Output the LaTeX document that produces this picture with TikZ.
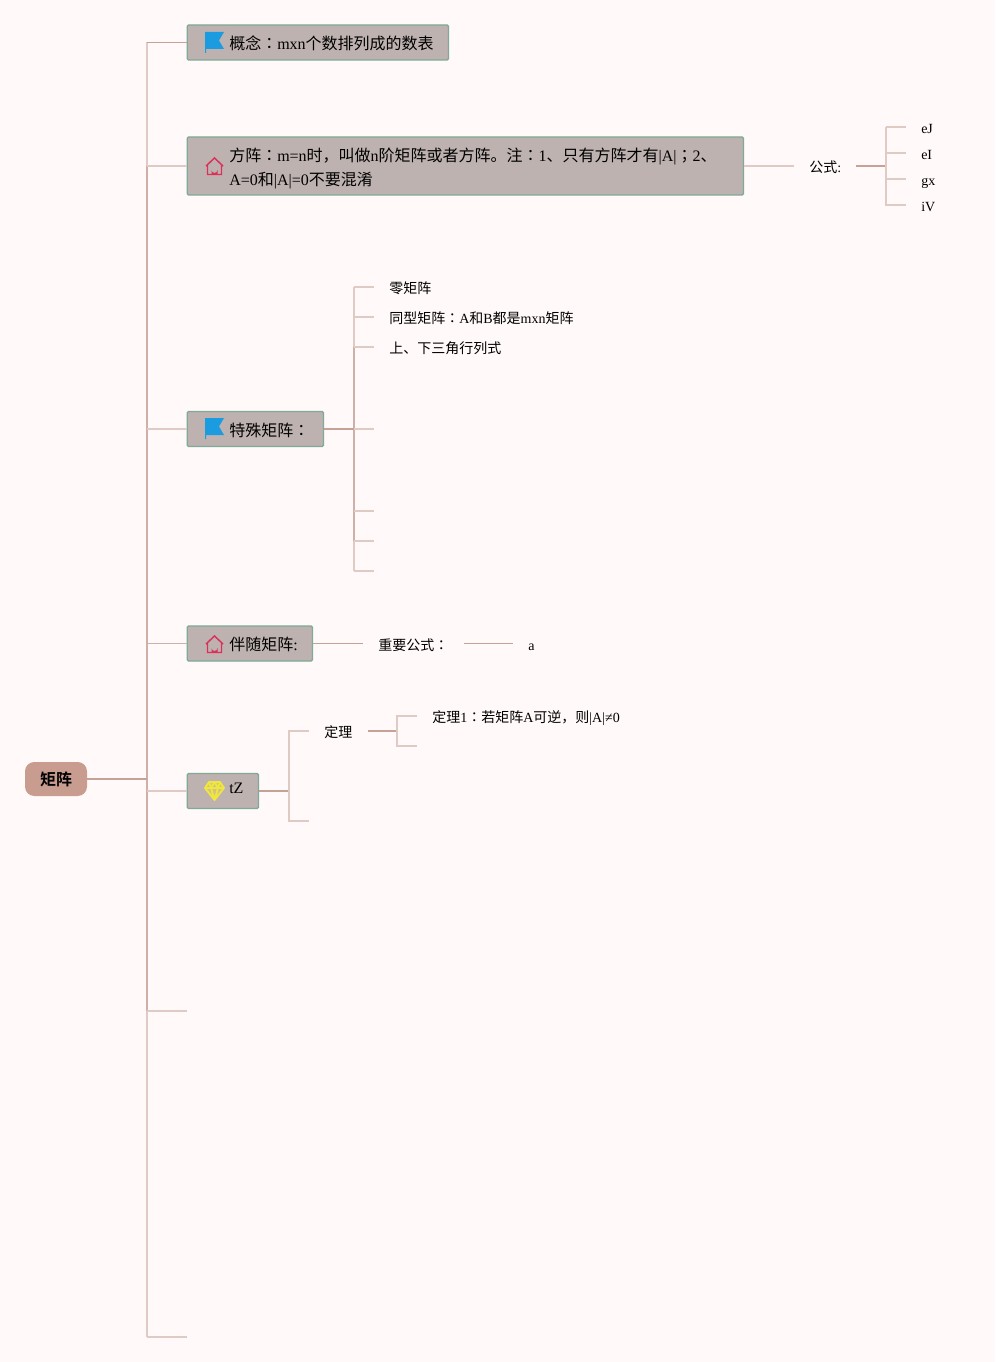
\documentclass[tikz,border=0pt]{standalone}
\usepackage{fontspec}
\setmainfont{Liberation Serif}
\newfontfamily\cjk{Noto Sans CJK SC}
\newfontfamily\cjkb{Noto Sans CJK SC Bold}
\newfontfamily\cjkjp{Noto Sans CJK JP}
\newcommand{\zh}[1]{{\cjk #1}}
\newcommand{\zhc}{{\cjkjp ：}}

\definecolor{paper}{HTML}{FFF9F9}
\definecolor{boxfill}{HTML}{BDB2AF}
\definecolor{boxedge}{HTML}{7FA999}
\definecolor{rootfill}{HTML}{C89C8E}
\definecolor{linepale}{HTML}{DFCAC4}
\definecolor{linemid}{HTML}{CFB0A8}
\definecolor{linedark}{HTML}{C6A296}
\definecolor{flagblue}{HTML}{1B9BE0}
\definecolor{housered}{HTML}{DC2F5A}
\definecolor{gemyellow}{HTML}{F0E63C}

\tikzset{
	topicbox/.style={draw=boxedge, fill=boxfill, line width=1pt, rounded corners=1pt,
		anchor=west, minimum height=26.25pt, inner sep=0pt},
	topictext/.style={anchor=west, inner sep=0pt, align=left, font=\fontsize{12}{18}\selectfont},
	leaftext/.style={inner xsep=11.25pt, inner ysep=0pt, text height=10.5pt, text depth=0.5pt,
		anchor=west, font=\fontsize{10.5}{12}\selectfont},
	pale/.style={linepale, line width=1.25pt},
	mid/.style={linemid, line width=1.25pt},
	dark/.style={linedark, line width=1.4pt},
}

\newcommand{\flagicon}[1]{
	\fill [flagblue, shift={(#1)}] (0,0) -- (19,0) -- (14,8.5) -- (19,17) -- (1.2,17) -- (1.2,21) -- (0,21) -- cycle;
}
\newcommand{\houseicon}[1]{
	\draw [housered, line width=1.1pt, shift={(#1)}] (0,8) -- (8.5,0) -- (17,8) (1.5,6.5) -- (1.5,16.5) -- (15.5,16.5) -- (15.5,6.5);
	\fill [housered, shift={(#1)}] (5.5,16.5) -- (5.5,12) arc (180:0:3) -- (11.5,16.5) -- cycle;
}
\newcommand{\gemicon}[1]{
	\fill [gemyellow, opacity=0.35, shift={(#1)}] (4,0) -- (15,0) -- (19,6) -- (9.5,18) -- (0,6) -- cycle;
	\draw [gemyellow, line width=1.4pt, line join=round, shift={(#1)}] (4,0) -- (15,0) -- (19,6) -- (9.5,18) -- (0,6) -- cycle
	(0,6) -- (19,6) (4,0) -- (6,6) -- (9.5,18) -- (13,6) -- (15,0) (6,6) -- (9.5,0) -- (13,6);
}

\begin{document}
\begin{tikzpicture}
	[x=0.75pt, y=-0.75pt]
	\useasboundingbox [fill=paper] (0,0) rectangle (995,1362);
	% main boxes
	\node [fill=rootfill, rounded corners=7pt, minimum width=46.5pt, minimum height=25.5pt, inner sep=0pt,
		font=\fontsize{12}{14}\selectfont] (root) at (56,779) {\raisebox{-0.75pt}{\cjkb 矩阵}};
	\node [topicbox, minimum width=196pt] (concept) at (186.5,42.5) {};
	\node [topicbox, minimum width=417.25pt, minimum height=43.5pt] (square) at (186.5,166) {};
	\node [topicbox, minimum width=102.25pt] (special) at (186.5,429) {};
	\node [topicbox, minimum width=94pt] (adjoint) at (186.5,643.5) {};
	\node [topicbox, minimum width=53.5pt] (tz) at (186.5,791) {};
	\node [topictext] (concepttext) at (229,43.5) {\zh{概念}\zhc mxn\zh{个数排列成的数表}};
	\node [topictext] (squaretext) at (229,168) {\zh{方阵}\zhc m=n\zh{时，叫做}n\zh{阶矩阵或者方阵。注}\zhc 1\zh{、只有方阵才有}|A|{\cjkjp ；}2\zh{、}\\A=0\zh{和}|A|=0\zh{不要混淆}};
	\node [topictext] (specialtext) at (229,430) {\zh{特殊矩阵}\zhc};
	\node [topictext] (adjointtext) at (229,644) {\zh{伴随矩阵}:};
	\node [topictext] (tztext) at (229,788) {tZ};
	\flagicon{205,32}
	\houseicon{206,158}
	\flagicon{205,418}
	\houseicon{206,636}
	\gemicon{205,782}
	% leaves
	\node [leaftext] (formula) at (794,166) {\zh{公式}:};
	\foreach \name/\y/\txt in {ej/127/eJ, ei/153/eI, gx/179/gx, iv/205/iV}
		\node [leaftext] (\name) at (906,\y) {\txt};
	\node [leaftext] (zero) at (374,287) {\zh{零矩阵}};
	\node [leaftext] (sametype) at (374,317) {\zh{同型矩阵}\zhc A\zh{和}B\zh{都是}mxn\zh{矩阵}};
	\node [leaftext] (triangle) at (374,347) {\zh{上、下三角行列式}};
	\node [leaftext] (keyformula) at (363,643.5) {\zh{重要公式}\zhc};
	\node [leaftext] (a) at (513,643.5) {a};
	\node [leaftext] (theorem) at (309,731) {\zh{定理}};
	\node [leaftext] (theoremone) at (417,716) {\zh{定理}1\zhc\zh{若矩阵}A\zh{可逆，则}|A|≠0};
	% root trunk
	\coordinate (rootfork) at (147,779);
	\foreach \name/\y in {ta/42.5, tb/166, tc/429, td/643.5, te/791, tf/1011, tg/1337}
		\coordinate (\name) at (147,\y);
	\coordinate (tfend) at (187,1011);
	\coordinate (tgend) at (187,1337);
	\draw [pale] (ta) -- (tb);
	\draw [mid] (tb) -- (tf);
	\draw [pale] (tf) -- (tg);
	\draw [dark] (root) -- (rootfork);
	\draw [dark, line width=1pt] (ta) -- (concept.west);
	\draw [pale] (tb) -- (square.west);
	\draw [pale] (tc) -- (special.west);
	\draw [mid, line width=1pt] (td) -- (adjoint.west);
	\draw [pale] (te) -- (tz.west);
	\draw [pale] (tf) -- (tfend);
	\draw [pale] (tg) -- (tgend);
	% square branch
	\coordinate (fa) at (886,166);
	\draw [pale] (square.east) -- (formula.west);
	\draw [dark] (formula.east) -- (fa);
	\draw [pale] (886,127) |- (ej.west);
	\draw [pale] (886,127) -- (886,205) -- (iv.west);
	\draw [pale] (886,153) -- (ei.west);
	\draw [pale] (886,179) -- (gx.west);
	% special branch
	\coordinate (sb) at (354,429);
	\coordinate (sc) at (374,429);
	\draw [mid] (354,347) -- (354,541);
	\draw [pale] (354,287) -- (354,347) (354,541) -- (354,571);
	\draw [pale] (zero.west) -- (354,287);
	\draw [pale] (sametype.west) -- (354,317);
	\draw [pale] (triangle.west) -- (354,347);
	\draw [dark, line width=1pt] (special.east) -- (sb);
	\draw [pale] (sb) -- (sc);
	\foreach \y in {511,541,571}
		\draw [pale] (354,\y) -- (374,\y);
	% adjoint branch
	\draw [dark, line width=1pt] (adjoint.east) -- (keyformula.west);
	\draw [dark, line width=1pt] (keyformula.east) -- (a.west);
	% tz branch
	\coordinate (tzb) at (289,791);
	\draw [dark] (tz.east) -- (tzb);
	\draw [pale] (theorem.west) -- (289,731) -- (289,821) -- (309,821);
	\coordinate (thb) at (397,731);
	\draw [dark] (theorem.east) -- (thb);
	\draw [pale] (theoremone.west) -- (397,716) -- (397,746) -- (417,746);
\end{tikzpicture}
\end{document}
